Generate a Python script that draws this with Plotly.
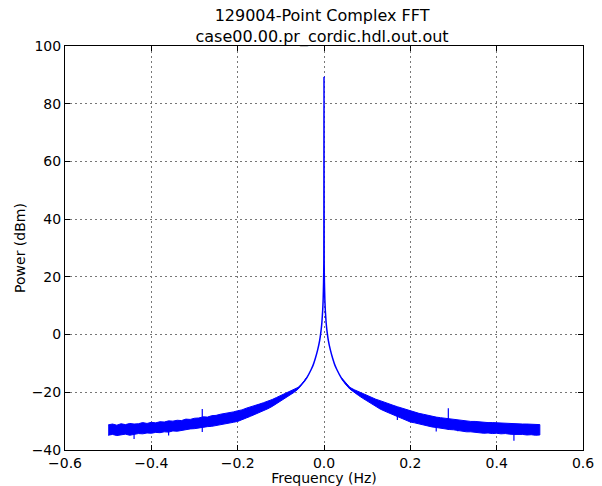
import numpy as np
import plotly.graph_objects as go

# ---- data ----
freq_left = [-0.50, -0.49, -0.48, -0.47, -0.46, -0.45, -0.44, -0.43, -0.42, -0.41,
             -0.40, -0.39, -0.38, -0.37, -0.36, -0.35, -0.34, -0.33, -0.32, -0.31,
             -0.30, -0.29, -0.28, -0.27, -0.26, -0.25, -0.24, -0.23, -0.22, -0.21,
             -0.20, -0.19, -0.18, -0.17, -0.16, -0.15, -0.14, -0.13, -0.12, -0.11,
             -0.10, -0.09, -0.08, -0.07, -0.06, -0.05, -0.04]
upper_left = [-31.3, -31.0, -31.4, -30.9, -31.2, -30.8, -31.0, -30.9, -30.5, -30.8,
              -30.4, -30.6, -30.2, -30.3, -29.9, -30.0, -29.7, -29.8, -29.3, -29.4,
              -29.0, -28.9, -28.5, -28.6, -28.1, -28.0, -27.6, -27.4, -27.0, -26.8,
              -26.4, -26.1, -25.5, -25.1, -24.6, -24.1, -23.6, -23.1, -22.5, -21.8,
              -21.1, -20.4, -19.8, -19.1, -18.3, -16.9, -14.9]
lower_left = [-34.9, -34.6, -35.0, -34.7, -34.5, -34.9, -34.6, -34.3, -34.4, -34.1,
              -34.2, -33.9, -34.0, -33.7, -33.8, -33.4, -33.5, -33.1, -33.0, -32.7,
              -32.6, -32.3, -32.2, -31.9, -31.8, -31.5, -31.3, -31.0, -30.7, -30.4,
              -30.1, -29.6, -28.9, -28.3, -27.8, -27.1, -26.4, -25.7, -24.9, -24.0,
              -23.1, -22.0, -21.1, -20.1, -18.9, -17.2, -15.1]

freq_right = [0.04, 0.05, 0.06, 0.07, 0.08, 0.09, 0.10, 0.11, 0.12, 0.13,
              0.14, 0.15, 0.16, 0.17, 0.18, 0.19, 0.20, 0.21, 0.22, 0.23,
              0.24, 0.25, 0.26, 0.27, 0.28, 0.29, 0.30, 0.31, 0.32, 0.33,
              0.34, 0.35, 0.36, 0.37, 0.38, 0.39, 0.40, 0.41, 0.42, 0.43,
              0.44, 0.45, 0.46, 0.47, 0.48, 0.49, 0.50]
upper_right = [-14.9, -16.8, -18.3, -19.1, -19.8, -20.5, -21.0, -21.7, -22.4, -22.9,
               -23.5, -24.0, -24.5, -25.0, -25.5, -26.0, -26.5, -26.9, -27.3, -27.6,
               -28.0, -28.2, -28.6, -28.8, -29.0, -29.1, -29.4, -29.5, -29.8, -29.9,
               -30.1, -30.1, -30.3, -30.3, -30.5, -30.5, -30.6, -30.7, -30.8, -30.7,
               -30.9, -30.9, -31.0, -31.0, -31.1, -31.0, -31.2]
lower_right = [-15.1, -17.2, -18.9, -20.1, -21.1, -22.1, -23.2, -24.1, -24.9, -25.8,
               -26.5, -27.2, -27.9, -28.5, -29.0, -29.7, -30.3, -30.6, -31.0, -31.4,
               -31.6, -32.0, -32.2, -32.5, -32.6, -32.9, -33.0, -33.3, -33.4, -33.7,
               -33.7, -33.9, -34.0, -34.2, -34.1, -34.3, -34.2, -34.4, -34.3, -34.5,
               -34.6, -34.7, -34.6, -34.8, -34.7, -34.9, -34.8]

freq_core = [-0.10, -0.09, -0.08, -0.07, -0.06, -0.05, -0.04, -0.03, -0.025, -0.02,
             -0.015, -0.01, -0.007, -0.005, -0.003, -0.002, -0.001, -0.0004, 0.0,
             0.0004, 0.001, 0.002, 0.003, 0.005, 0.007, 0.01, 0.015, 0.02, 0.025,
             0.03, 0.04, 0.05, 0.06, 0.07, 0.08, 0.09, 0.10]
power_core = [-22.1, -21.3, -20.5, -19.6, -18.6, -17.0, -15.0, -12.2, -10.5, -8.2,
              -5.5, -2.0, 1.2, 4.0, 8.5, 12.0, 18.0, 25.0, 89.3,
              25.0, 18.0, 12.0, 8.5, 4.0, 1.2, -2.0, -5.5, -8.2, -10.5,
              -12.2, -15.0, -17.0, -18.6, -19.6, -20.5, -21.3, -22.1]

spur_freq = [-0.282, 0.288, -0.44, 0.44, 0.26, 0.31, -0.36, 0.17]
spur_top = [-25.8, -25.5, -32.0, -32.0, -30.0, -30.0, -31.5, -27.0]
spur_bottom = [-33.8, -33.0, -36.2, -36.8, -33.6, -33.5, -35.0, -29.6]

BLUE = "#0000ff"

fig = go.Figure()

for fx, up, lo in [(freq_left, upper_left, lower_left),
                   (freq_right, upper_right, lower_right)]:
    fig.add_trace(go.Scatter(
        x=list(fx) + list(fx)[::-1],
        y=list(up) + list(lo)[::-1],
        mode="lines", fill="toself", fillcolor=BLUE,
        line=dict(color=BLUE, width=1), hoverinfo="skip", showlegend=False))

fig.add_trace(go.Scatter(x=freq_core, y=power_core, mode="lines",
                         line=dict(color=BLUE, width=1.5, shape="spline", smoothing=0.4),
                         showlegend=False))

sx, sy = [], []
for f, t, b in zip(spur_freq, spur_top, spur_bottom):
    sx += [f, f, None]
    sy += [t, b, None]
fig.add_trace(go.Scatter(x=sx, y=sy, mode="lines",
                         line=dict(color=BLUE, width=1.2), showlegend=False))

axis_common = dict(
    showline=True, linecolor="black", linewidth=1, mirror="ticks",
    ticks="inside", ticklen=5, tickcolor="black", tickwidth=1,
    showgrid=True, gridcolor="#777777", griddash="2px,3px", gridwidth=1,
    zeroline=False, automargin=False,
    tickfont=dict(family="DejaVu Sans", size=14, color="black"),
)

fig.update_xaxes(range=[-0.6, 0.6], tickvals=[-0.6, -0.4, -0.2, 0.0, 0.2, 0.4, 0.6],
                 tickformat=".1f",
                 title=dict(text="Frequency (Hz)", font=dict(family="DejaVu Sans", size=14, color="black"),
                            standoff=2),
                 **axis_common)
fig.update_yaxes(range=[-40, 100], tickvals=[-40, -20, 0, 20, 40, 60, 80, 100],
                 title=dict(text="Power (dBm)", font=dict(family="DejaVu Sans", size=14, color="black"),
                            standoff=2),
                 **axis_common)

fig.update_layout(
    width=602, height=486,
    margin=dict(l=65, r=19, t=46, b=36, autoexpand=False),
    paper_bgcolor="white", plot_bgcolor="white",
    title=dict(text="129004-Point Complex FFT<br>case00.00.pr_cordic.hdl.out.out",
               x=0.535, xanchor="center", y=0.957, yanchor="middle",
               font=dict(family="DejaVu Sans", size=16, color="black")),
    showlegend=False,
)

fig.write_html("out.html", config={"displayModeBar": False},
               post_script="document.body.style.margin='0';document.body.style.overflow='hidden';")
